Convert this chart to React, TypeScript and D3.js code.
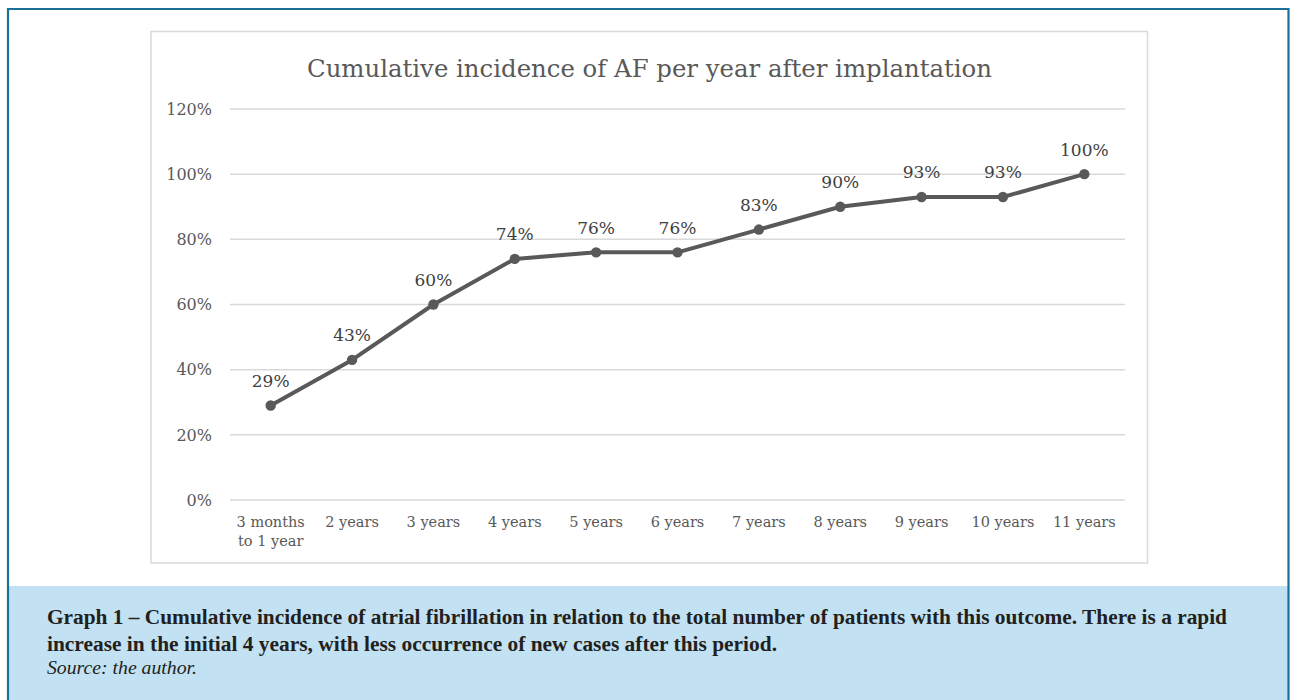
import React from "react";
import * as d3 from "d3";

const categories: string[][] = [
  ["3 months", "to 1 year"],
  ["2 years"],
  ["3 years"],
  ["4 years"],
  ["5 years"],
  ["6 years"],
  ["7 years"],
  ["8 years"],
  ["9 years"],
  ["10 years"],
  ["11 years"],
];
const values: number[] = [0.29, 0.43, 0.6, 0.74, 0.76, 0.76, 0.83, 0.9, 0.93, 0.93, 1.0];
const yTicks: number[] = [0, 0.2, 0.4, 0.6, 0.8, 1.0, 1.2];
const title = "Cumulative incidence of AF per year after implantation";
const captionLines: string[] = [
  "Graph 1 – Cumulative incidence of atrial fibrillation in relation to the total number of patients with this outcome. There is a rapid",
  "increase in the initial 4 years, with less occurrence of new cases after this period.",
];
const sourceText = "Source: the author.";

const W = 1295;
const H = 700;

export default function App() {
  const x = d3
    .scaleBand<number>()
    .domain(d3.range(categories.length))
    .range([230, 1125]);
  const y = d3.scaleLinear().domain([0, 1.2]).range([500, 109]);
  const fmt = d3.format(".0%");
  const line = d3
    .line<number>()
    .x((_, i) => (x(i) as number) + x.bandwidth() / 2)
    .y((d) => y(d));
  const chartFont = "'DejaVu Serif', serif";
  const capFont = "'Liberation Serif', serif";

  return (
    <svg
      width={W}
      height={H}
      style={{ position: "absolute", left: 0, top: 0, background: "#fff" }}
    >
      <rect x={0} y={0} width={W} height={H} fill="#fff" />
      <rect x={9} y={586} width={1280} height={114} fill="#c2e2f3" />
      <path d="M8,700 V9 H1288.5 V700" fill="none" stroke="#1b7099" strokeWidth={2.2} />

      <rect x={151} y={31.5} width={996.5} height={531.5} fill="#fff" stroke="#d9d9d9" strokeWidth={1.5} />

      <text
        x={649.5}
        y={77}
        textAnchor="middle"
        fontFamily={chartFont}
        fontSize={24.5}
        fill="#595959"
        textLength={685}
        lengthAdjust="spacingAndGlyphs"
      >
        {title}
      </text>

      {yTicks.map((t) => (
        <g key={t}>
          <line x1={230} x2={1125} y1={y(t)} y2={y(t)} stroke="#d9d9d9" strokeWidth={1.5} />
          <text
            x={212}
            y={y(t)}
            dy="0.36em"
            textAnchor="end"
            fontFamily={chartFont}
            fontSize={16}
            fill="#595959"
          >
            {fmt(t)}
          </text>
        </g>
      ))}

      {categories.map((c, i) => (
        <text
          key={i}
          x={(x(i) as number) + x.bandwidth() / 2}
          y={527}
          textAnchor="middle"
          fontFamily={chartFont}
          fontSize={14.5}
          fill="#595959"
        >
          {c.map((s, j) => (
            <tspan key={j} x={(x(i) as number) + x.bandwidth() / 2} dy={j === 0 ? 0 : 18.5}>
              {s}
            </tspan>
          ))}
        </text>
      ))}

      <path d={line(values) || ""} fill="none" stroke="#595959" strokeWidth={4} strokeLinejoin="round" />
      {values.map((v, i) => (
        <circle key={i} cx={(x(i) as number) + x.bandwidth() / 2} cy={y(v)} r={5.2} fill="#595959" />
      ))}
      {values.map((v, i) => (
        <text
          key={"l" + i}
          x={(x(i) as number) + x.bandwidth() / 2}
          y={y(v) - 18.5}
          textAnchor="middle"
          fontFamily={chartFont}
          fontSize={17}
          fill="#404040"
        >
          {fmt(v)}
        </text>
      ))}

      {captionLines.map((s, i) => (
        <text
          key={"c" + i}
          x={47}
          y={624 + i * 26.5}
          fontFamily={capFont}
          fontWeight="bold"
          fontSize={20.5}
          fill="#231f20"
          textLength={i === 0 ? 1180 : 730}
          lengthAdjust="spacingAndGlyphs"
        >
          {s}
        </text>
      ))}
      <text
        x={47}
        y={674}
        fontFamily={capFont}
        fontStyle="italic"
        fontSize={18.5}
        fill="#231f20"
        textLength={150}
        lengthAdjust="spacingAndGlyphs"
      >
        {sourceText}
      </text>
    </svg>
  );
}
